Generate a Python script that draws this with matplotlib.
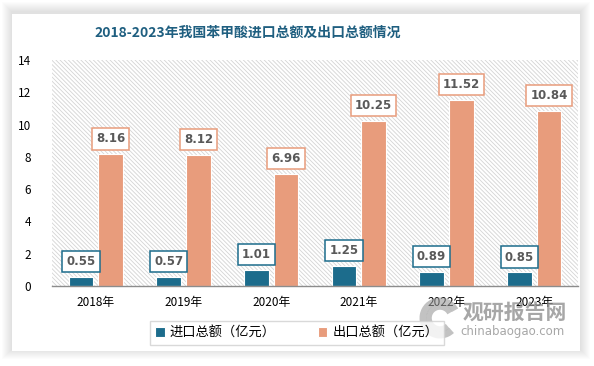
import numpy as np
import matplotlib
matplotlib.use("Agg")
import matplotlib.pyplot as plt
from matplotlib.patches import Rectangle, Arc

plt.rcParams['font.family'] = ['Noto Sans CJK SC', 'DejaVu Sans']
plt.rcParams['hatch.color'] = '#d4d4d4'
plt.rcParams['hatch.linewidth'] = 0.6

# data
years = ['2018年', '2019年', '2020年', '2021年', '2022年', '2023年']
imports = [0.55, 0.57, 1.01, 1.25, 0.89, 0.85]
exports = [8.16, 8.12, 6.96, 10.25, 11.52, 10.84]
series_names = ['进口总额（亿元）', '出口总额（亿元）']
title = '2018-2023年我国苯甲酸进口总额及出口总额情况'

c_imp = '#1c6c8c'
c_exp = '#e89c7c'

W, H = 594, 366
fig = plt.figure(figsize=(W / 100, H / 100), dpi=100)
fig.patch.set_facecolor('white')

# card with soft shadow
cx0, cy0, cx1, cy1 = 12, 14, 580, 351
for i in range(10, 0, -1):
    fig.patches.append(Rectangle(((cx0 - i) / W, (H - cy1 - i + 2) / H),
                                 (cx1 - cx0 + 2 * i) / W, (cy1 - cy0 + 2 * i) / H,
                                 transform=fig.transFigure, facecolor='black',
                                 alpha=0.012, edgecolor='none', zorder=0))
fig.patches.append(Rectangle((cx0 / W, (H - cy1) / H), (cx1 - cx0) / W, (cy1 - cy0) / H,
                             transform=fig.transFigure, facecolor='white',
                             edgecolor='none', zorder=0))

ax = fig.add_axes([52 / W, (H - 286) / H, (578 - 52) / W, (286 - 60) / H])
ax.set_zorder(1)
ax.patch.set_facecolor('white')
ax.patch.set_hatch('\\' * 8)
ax.patch.set_edgecolor('#d4d4d4')
ax.patch.set_linewidth(0)

x = np.arange(len(years))
bw = 0.28
off = 0.17
b1 = ax.bar(x - off, imports, bw, color=c_imp, edgecolor='white', linewidth=0.8,
            label=series_names[0], zorder=2)
b2 = ax.bar(x + off, exports, bw, color=c_exp, edgecolor='white', linewidth=0.8,
            label=series_names[1], zorder=2)

for bars, vals, col in [(b1, imports, c_imp), (b2, exports, c_exp)]:
    for b, v in zip(bars, vals):
        ax.annotate(f'{v:.2f}', (b.get_x() + b.get_width() / 2, v),
                    xytext=(0, 11), textcoords='offset points',
                    ha='center', va='center', fontsize=8.5, fontweight='bold',
                    color='#595959', family='DejaVu Sans', zorder=4,
                    bbox=dict(boxstyle='square,pad=0.35', fc='white', ec=col, lw=1.1))

ax.set_xlim(-0.5, len(years) - 0.5)
ax.set_ylim(0, 14)
ax.set_yticks(range(0, 15, 2))
ax.set_xticks(x)
ax.set_xticklabels(years, fontsize=8.5)
ax.tick_params(axis='y', length=0, pad=15, labelsize=8.5)
ax.tick_params(axis='x', length=0, pad=7)
for s in ['top', 'right', 'left']:
    ax.spines[s].set_visible(False)
ax.spines['bottom'].set_color('#8c8c8c')
ax.spines['bottom'].set_linewidth(1)

fig.text(248 / W, 1 - 33 / H, title, ha='center', va='center', fontsize=10,
         fontweight='bold', color='#1f5f80')

leg = fig.legend(handles=[b1, b2], loc='center', bbox_to_anchor=(297 / W, 1 - 333 / H),
                 ncol=2, fontsize=9.5, frameon=True, fancybox=False,
                 handlelength=0.7, handleheight=0.7, handletextpad=0.4,
                 columnspacing=3.2, borderpad=0.4)
leg.get_frame().set_edgecolor('#d0d0d0')
leg.get_frame().set_linewidth(1)

# watermark
for r, lw in [(34, 5), (22, 4)]:
    fig.patches.append(Arc((440 / W, 1 - 318 / H), r / W, r / H, theta1=40, theta2=300,
                           transform=fig.transFigure, color='#9a9a9a', lw=lw,
                           alpha=0.6, zorder=5))
fig.text(463 / W, 1 - 312 / H, '观研报告网', ha='left', va='center', fontsize=15,
         fontweight='bold', color='#8a8a8a', alpha=0.75, zorder=5)
fig.text(460 / W, 1 - 332 / H, 'chinabaogao.com', ha='left', va='center', fontsize=8.5,
         color='#8a8a8a', alpha=0.75, zorder=5, family='DejaVu Sans')

fig.savefig('out.png', dpi=100)
